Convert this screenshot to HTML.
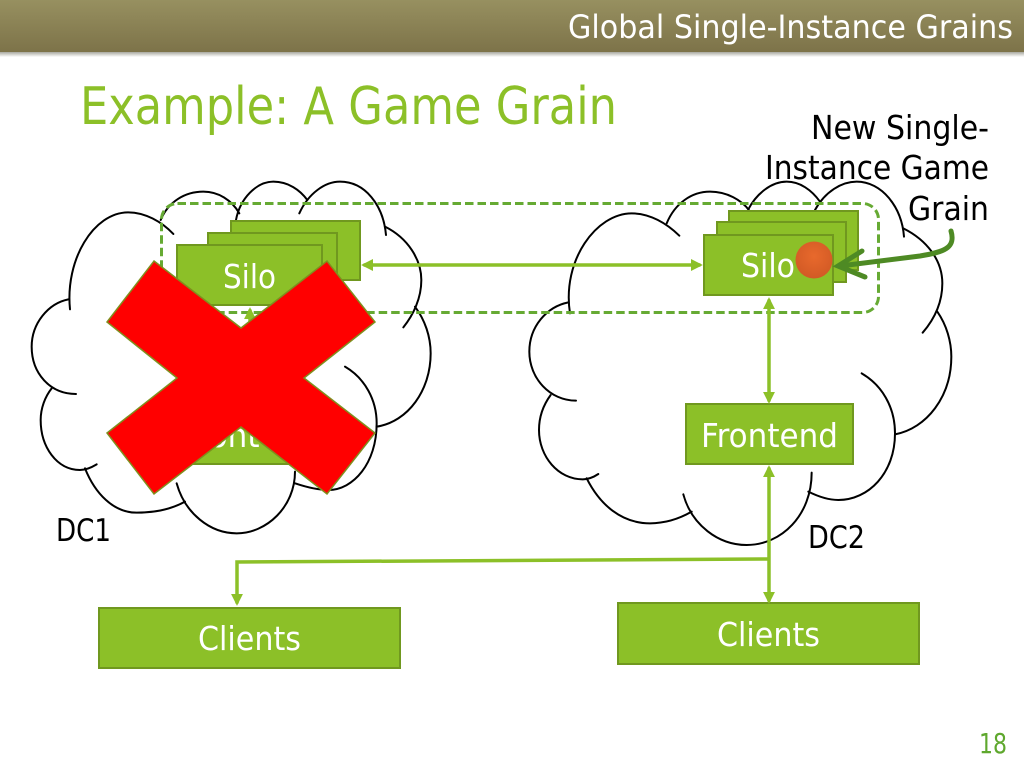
<!DOCTYPE html>
<html><head><meta charset="utf-8"><style>
html,body{margin:0;padding:0;background:#fff}
svg{display:block}
text{font-family:"DejaVu Sans","Liberation Sans",sans-serif}
</style></head><body>
<svg width="1024" height="768" viewBox="0 0 1024 768" xmlns="http://www.w3.org/2000/svg">
<defs>
<linearGradient id="bar" x1="0" y1="0" x2="0" y2="1"><stop offset="0" stop-color="#979060"/><stop offset="1" stop-color="#7d7349"/></linearGradient>
<linearGradient id="shadow" x1="0" y1="0" x2="0" y2="1"><stop offset="0" stop-color="#a8a8a0"/><stop offset="1" stop-color="#ffffff"/></linearGradient>
<radialGradient id="ball" cx="50%" cy="40%" r="60%"><stop offset="0" stop-color="#e8692c"/><stop offset="1" stop-color="#d25a25"/></radialGradient>
<marker id="lg" markerWidth="3.4" markerHeight="3.4" refX="4" refY="2.5" orient="auto-start-reverse" markerUnits="strokeWidth" viewBox="0 0 5 5"><path d="M0 0L5 2.5L0 5Z" fill="#8cc028"/></marker>
</defs>
<rect width="1024" height="768" fill="#fff"/>
<rect y="52" width="1024" height="5" fill="url(#shadow)"/>
<rect width="1024" height="52" fill="url(#bar)"/>
<text x="568" y="38" font-size="32" fill="#fff" textLength="445" lengthAdjust="spacingAndGlyphs">Global Single-Instance Grains</text>
<text x="80" y="124" font-size="52" fill="#8cc028" textLength="537" lengthAdjust="spacingAndGlyphs">Example: A Game Grain</text>

<g fill="none" stroke="#000" stroke-width="6" stroke-linecap="round" transform="translate(0,170) scale(0.33333)">
<path d="M210 418C195 270 280 127 385 127C435 127 485 155 520 192"/>
<path d="M482 150C505 95 555 65 610 65C655 65 695 90 718 130"/>
<path d="M708 150C720 85 770 35 820 35C865 35 900 60 922 90"/>
<path d="M898 130C925 70 975 35 1020 35C1095 35 1150 105 1158 195"/>
<path d="M1155 170C1225 205 1264 270 1264 330C1264 385 1240 435 1210 472"/>
<path d="M1245 410C1275 450 1292 500 1292 550C1292 660 1225 755 1130 770"/>
<path d="M1035 590C1095 625 1130 690 1130 760C1130 880 1060 960 985 960C950 960 915 950 885 940"/>
<path d="M885 905C885 1010 800 1090 710 1090C630 1090 555 1030 530 940"/>
<path d="M555 995C510 1020 460 1028 410 1028C340 1028 285 970 255 895"/>
<path d="M290 883C270 895 255 900 240 900C170 900 122 830 122 750C122 715 135 680 155 655"/>
<path d="M228 672C150 672 95 610 95 530C95 460 145 400 205 388"/>
</g>
<g fill="none" stroke="#000" stroke-width="6" stroke-linecap="round" transform="translate(510,170) scale(0.33333)">
<path d="M180 430C155 270 260 130 365 130C420 130 470 160 508 197"/>
<path d="M470 160C495 100 545 65 600 65C650 65 695 90 718 122"/>
<path d="M715 118C740 70 785 35 830 35C870 35 905 60 930 95"/>
<path d="M915 120C945 65 995 35 1040 35C1115 35 1175 110 1182 200"/>
<path d="M1180 175C1250 210 1297 270 1297 340C1297 395 1275 445 1238 488"/>
<path d="M1282 425C1310 465 1324 515 1324 560C1324 680 1250 775 1155 793"/>
<path d="M1055 610C1115 645 1155 710 1155 790C1155 910 1075 990 985 990C955 990 925 980 895 965"/>
<path d="M905 908C905 1035 815 1125 710 1125C625 1125 545 1065 520 973"/>
<path d="M545 1025C505 1048 465 1060 420 1060C335 1060 270 1005 230 925"/>
<path d="M265 912C250 922 235 928 218 928C145 928 87 860 87 780C87 740 100 705 122 675"/>
<path d="M198 692C120 692 58 625 58 545C58 470 110 410 175 397"/>
</g>

<rect x="161.500" y="203.500" width="717" height="109" rx="16" fill="none" stroke="#66aa33" stroke-width="3" stroke-dasharray="8.500 4"/>

<g fill="#8cc028" stroke="#70981f" stroke-width="2">
<rect x="231" y="221" width="129" height="59"/>
<rect x="208" y="233" width="129" height="60"/>
<rect x="177" y="245" width="145" height="60"/>
<rect x="729" y="211" width="129" height="59"/>
<rect x="717" y="222" width="129" height="60"/>
<rect x="704" y="235" width="129" height="60"/>
<rect x="686" y="404" width="167" height="60"/>
<rect x="166" y="404" width="167" height="60"/>
<rect x="99" y="608" width="301" height="60"/>
<rect x="618" y="603" width="301" height="61"/>
</g>

<g fill="none" stroke="#8cc028" stroke-width="3.500">
<line x1="363.500" y1="265" x2="700.500" y2="265" marker-start="url(#lg)" marker-end="url(#lg)"/>
<line x1="769" y1="299.500" x2="769" y2="401.500" marker-start="url(#lg)" marker-end="url(#lg)"/>
<line x1="769" y1="467.500" x2="769" y2="601.500" marker-start="url(#lg)" marker-end="url(#lg)"/>
<path d="M769 559L237 562V603.500" marker-end="url(#lg)"/>
<line x1="250" y1="309.500" x2="250" y2="330" marker-start="url(#lg)"/>
</g>

<g fill="#fff" font-size="33">
<text x="223" y="288" textLength="53" lengthAdjust="spacingAndGlyphs">Silo</text>
<text x="741" y="277" textLength="54" lengthAdjust="spacingAndGlyphs">Silo</text>
<text x="701" y="447" textLength="137" lengthAdjust="spacingAndGlyphs">Frontend</text>
<text x="181" y="447" textLength="137" lengthAdjust="spacingAndGlyphs">Frontend</text>
<text x="198" y="650" textLength="103" lengthAdjust="spacingAndGlyphs">Clients</text>
<text x="717" y="646" textLength="103" lengthAdjust="spacingAndGlyphs">Clients</text>
</g>

<circle cx="814" cy="260" r="18.500" fill="url(#ball)"/>

<g fill="none" stroke="#4e8a24" stroke-width="5" stroke-linecap="round">
<path d="M951 231C956 248 944 252 920 256C890 260 865 263 840 266"/>
<path d="M862 251L838 266L865 277"/>
</g>

<polygon points="154,261 241,328 327,261 375,322 304,378 375,433 327,494 241,427 154,494 107,433 177,378 107,322" fill="#ff0000" stroke="#7f8f1e" stroke-width="1.500"/>

<g fill="#000" font-size="33">
<text x="811" y="139" textLength="178" lengthAdjust="spacingAndGlyphs">New Single-</text>
<text x="765" y="179" textLength="224" lengthAdjust="spacingAndGlyphs">Instance Game</text>
<text x="908" y="220" textLength="81" lengthAdjust="spacingAndGlyphs">Grain</text>
<text x="56" y="541" font-size="31" textLength="55" lengthAdjust="spacingAndGlyphs">DC1</text>
<text x="808" y="548" font-size="31" textLength="57" lengthAdjust="spacingAndGlyphs">DC2</text>
</g>
<text x="979" y="753" font-size="28" fill="#5fa82e" textLength="28" lengthAdjust="spacingAndGlyphs">18</text>
</svg>
</body></html>
